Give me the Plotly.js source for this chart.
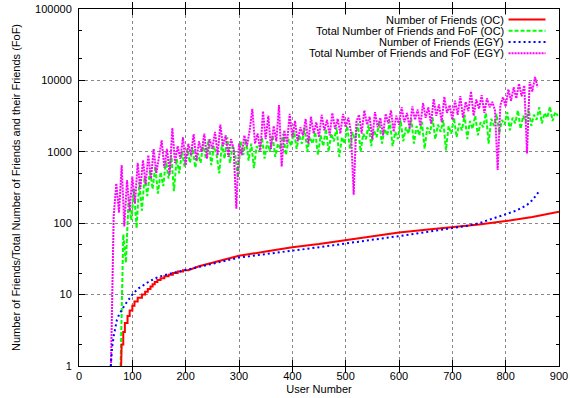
<!DOCTYPE html>
<html>
<head>
<meta charset="utf-8">
<script src="https://cdn.plot.ly/plotly-3.0.1.min.js"></script>
<style>html,body{margin:0;padding:0;background:#fff;}#chart{width:570px;height:398px;}</style>
</head>
<body>
<div id="chart"></div>
<script>
// ---- Data ----
const seriesNames = [
  "Number of Friends (OC)",
  "Total Number of Friends and FoF (OC)",
  "Number of Friends (EGY)",
  "Total Number of Friends and FoF (EGY)"
];

// Number of Friends (OC)
const ocFriendsX = [79,80,83,83,86,86,91,91,95,95,100,100,104,104,110,110,118,118,124,124,129,129,134,134,138,138,142,142,147,147,153,153,160,160,168,168,176,176,185,185,195,195,205,225,250,275,300,350,400,450,500,550,600,650,700,750,800,850,900];
const ocFriendsY = [1,2,2,3,3,4,4,5,5,6,6,7,7,8,8,9,9,10,10,11,11,12,12,13,13,14,14,15,15,16,16,17,17,18,18,19,19,20,20,21,21,22,22,25,28,31,35,40,46,51,58,66,74,81,88,96,107,122,145];

// Number of Friends (EGY)
const egyFriendsX = [59.5,62,65,68,71,75,80,85,90,95,100,110,120,130,140,150,175,200,250,300,350,400,450,500,550,600,650,700,725,750,775,800,820,840,850,862];
const egyFriendsY = [1,1.8,2.6,3.5,4.4,5.2,6.1,7,7.9,9,10,12,13.6,15,16.5,17.8,20,22,27,33,37,41,46,52,58,66,75,85,91,100,115,132,150,180,210,275];

// Total Number of Friends and FoF (OC): user number starts at 78, step 5
const ocTotalStart = 78, ocTotalStep = 5;
const ocTotalY = [
  1,70,28,220,110,300,85,380,150,450,
  240,560,300,620,260,520,330,750,420,900,
  280,800,500,1000,620,1100,700,1150,600,950,
  700,1300,800,1500,650,1200,900,500,1300,800,
  1600,700,1200,900,430,1400,900,1500,750,1300,
  590,1200,1000,1600,800,1400,1000,1700,850,1300,
  1100,1800,900,1500,1200,2000,1100,1700,1300,2200,
  1000,1600,1300,1900,900,1700,1200,2100,1000,1800,
  1400,2200,850,1600,1300,2300,1100,1900,1400,2500,
  1000,1800,1500,2400,1200,2000,1600,2600,1300,2100,
  1700,2700,1200,1900,1500,2800,1400,2200,1800,2900,
  1300,2300,1700,2600,1100,2200,1800,3000,1500,2400,
  1900,2800,1050,2300,1800,3000,1600,2500,2000,3300,
  1500,2700,2100,3200,1700,2600,2200,3500,1300,2900,
  2300,3400,1800,2800,2400,3600,2000,3000,2500,3800,
  2100,3200,2600,4000,2300,3300,2800,4200,2500,3500,
  3000,4300,2700,3600,3200
];

// Total Number of Friends and FoF (EGY): user number starts at 60, step 5
const egyTotalStart = 60, egyTotalStep = 5;
const egyTotalY = [
  1,124,360,140,650,90,400,150,450,190,
  700,300,760,350,900,420,1100,500,850,1450,
  600,1100,480,2150,700,1200,800,1600,650,1300,
  900,1770,750,1400,1000,1800,800,1500,1100,1900,
  900,2400,1200,1700,850,1500,1100,160,1300,900,
  1700,1200,2000,4000,1300,1800,1000,3700,1500,3200,
  1100,2300,1400,4500,620,2000,1300,3400,1600,2700,
  1400,2200,1700,2900,1300,3100,1800,2600,1600,3300,
  2000,2800,1700,3500,2100,2900,1800,3400,2200,3000,
  1900,250,2600,3300,1800,3800,2400,3100,1500,3600,
  2200,3000,1700,3400,2500,3800,1900,3200,2400,4200,
  2600,3500,2100,4300,2800,3900,2300,4800,3000,4200,
  2500,5500,3200,4600,2600,5900,3500,4500,2800,5200,
  3300,6000,3000,5000,3700,7000,3200,5400,4000,6200,
  3500,5600,4200,5000,3800,555,4500,5800,4300,7500,
  5200,8000,5600,9000,6000,8500,950,9500,7000,11200,
  8000
];

const xTickVals = [0,100,200,300,400,500,600,700,800,900];
const yTickVals = [1,10,100,1000,10000,100000];
const yTickText = ["1","10","100","1000","10000","100000"];
const yMinorVals = [2,5,20,50,200,500,2000,5000,20000,50000];

// ---- Styles ----
const colors = ["#ff0000","#00ff00","#0000ff","#ff00ff"];
const dashes = ["solid","4px,2px","2px,3px","2px,1px"];
const widths = [2,2,2,2];
const FONT = "Liberation Sans, Arial, Helvetica, sans-serif";

const traces = [
  {x: ocFriendsX, y: ocFriendsY, name: seriesNames[0], type:"scatter", mode:"lines",
   line:{color:colors[0], width:widths[0], dash:dashes[0]}},
  {x0: ocTotalStart, dx: ocTotalStep, y: ocTotalY, name: seriesNames[1], type:"scatter", mode:"lines",
   line:{color:colors[1], width:widths[1], dash:dashes[1]}},
  {x: egyFriendsX, y: egyFriendsY, name: seriesNames[2], type:"scatter", mode:"lines",
   line:{color:colors[2], width:widths[2], dash:dashes[2]}},
  {x0: egyTotalStart, dx: egyTotalStep, y: egyTotalY, name: seriesNames[3], type:"scatter", mode:"lines",
   line:{color:colors[3], width:widths[3], dash:dashes[3]}},
  // invisible helper trace carrying minor ticks on a twin y axis
  {x:[0], y:[1], yaxis:"y2", mode:"markers", marker:{opacity:0}, showlegend:false, hoverinfo:"skip"}
];
// draw order: green under magenta
const ordered = [traces[1], traces[3], traces[0], traces[2], traces[4]];

// custom legend (text right-aligned, sample on the right) in paper coords
const L = 79, R = 10.5, T = 9.4, B = 32;
const W = 570 - L - R, H = 398 - T - B;
const px2x = p => (p - L) / W;
const py2y = p => 1 - (p - T) / H;
const rowsY = [20, 31.2, 42.4, 53.6];
const shapes = [
  {type:"rect", xref:"paper", yref:"paper", x0:px2x(306), x1:px2x(553), y0:py2y(59), y1:py2y(15),
   fillcolor:"#ffffff", line:{width:0}, layer:"above"}
];
const annotations = [];
rowsY.forEach((ry, i) => {
  shapes.push({type:"line", xref:"paper", yref:"paper", x0:px2x(509), x1:px2x(546), y0:py2y(ry), y1:py2y(ry),
    line:{color:colors[i], width:widths[i], dash:dashes[i]}, layer:"above"});
  annotations.push({xref:"paper", yref:"paper", x:px2x(506), y:py2y(ry), xanchor:"right", yanchor:"middle",
    text:seriesNames[i], showarrow:false, font:{family:FONT, size:11, color:"#000"}});
});

const layout = {
  width:570, height:398,
  margin:{l:L, r:R, t:T, b:B, pad:0},
  paper_bgcolor:"#fff", plot_bgcolor:"#fff",
  showlegend:false,
  font:{family:FONT, size:11, color:"#000"},
  xaxis:{
    range:[0,900], tickvals:xTickVals, ticks:"inside", ticklen:6, tickcolor:"#000",
    showline:true, linecolor:"#000", linewidth:1, mirror:"allticks",
    showgrid:true, gridcolor:"#888", griddash:"dot", gridwidth:1, zeroline:false,
    title:{text:"User Number", font:{family:FONT, size:11}, standoff:4},
    tickfont:{family:FONT, size:11}
  },
  yaxis:{
    type:"log", range:[0,5], tickvals:yTickVals, ticktext:yTickText, ticks:"inside", ticklen:6, tickcolor:"#000",
    showline:true, linecolor:"#000", linewidth:1, mirror:"allticks",
    showgrid:true, gridcolor:"#888", griddash:"dot", gridwidth:1, zeroline:false,
    ticklabelstandoff:4,
    title:{text:"Number of Friends/Total Number of Friends and their Friends (FoF)", font:{family:FONT, size:11}, standoff:12},
    tickfont:{family:FONT, size:11}
  },
  yaxis2:{
    type:"log", range:[0,5], overlaying:"y", side:"left", tickvals:yMinorVals, showticklabels:false,
    ticks:"inside", ticklen:3, tickcolor:"#000", showgrid:false, zeroline:false, showline:false, mirror:"ticks"
  },
  shapes:shapes,
  annotations:annotations
};

Plotly.newPlot("chart", ordered, layout, {staticPlot:true, displayModeBar:false});
</script>
</body>
</html>
